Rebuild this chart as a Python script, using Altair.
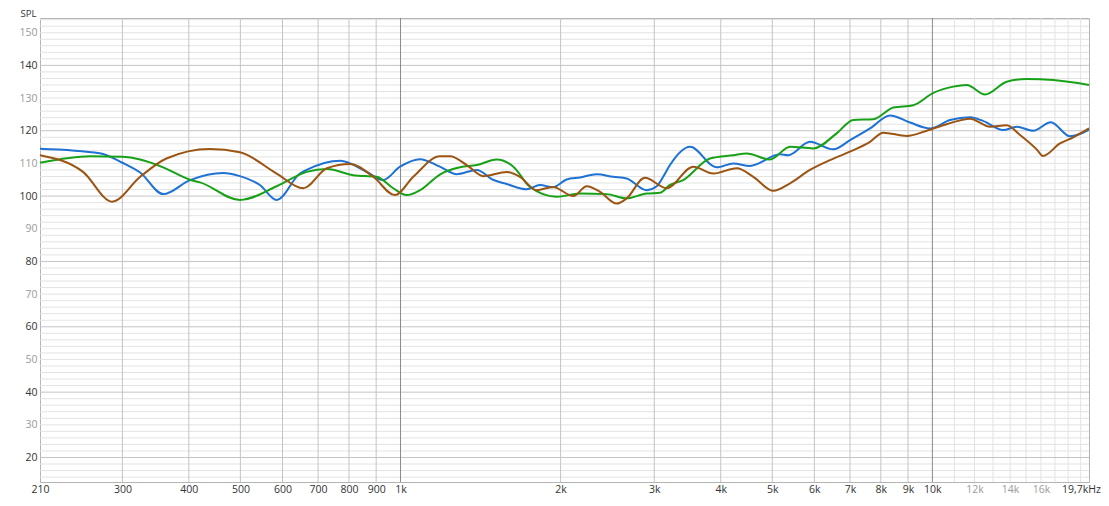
import altair as alt
import pandas as pd

# ---- data ----
blue_freq = [210, 272, 300, 324, 358, 402, 464, 499, 544, 585, 647, 666, 770, 864, 927, 998, 1088, 1186, 1275, 1391,
             1492, 1584, 1727, 1829, 1935, 2053, 2175, 2338, 2509, 2662, 2903, 3032, 3120, 3211, 3502, 3931, 4224, 4540,
             5170, 5359, 5886, 6512, 7000, 7634, 8325, 9078, 9899, 10794, 11770, 12452, 13577, 14406, 15477, 16700,
             18144, 19700]
blue_spl = [114.5, 113.1, 110.2, 107.2, 100.6, 104.9, 107.1, 106.1, 103.4, 98.8, 106.9, 108.0, 110.8, 107.4, 104.9,
            109.0, 111.3, 109.0, 106.7, 108.0, 105.0, 103.7, 102.1, 103.4, 102.7, 105.1, 105.7, 106.7, 105.9, 105.4,
            101.8, 103.0, 106.0, 109.5, 115.1, 108.8, 110.0, 109.2, 112.8, 112.5, 116.6, 114.3, 117.1, 120.7, 124.7,
            122.5, 120.7, 123.3, 124.1, 123.0, 120.2, 121.2, 120.0, 122.6, 118.3, 120.3]

green_freq = [210, 261, 300, 324, 358, 402, 420, 499, 585, 666, 727, 815, 902, 969, 1027, 1088, 1186, 1294, 1391, 1516,
              1630, 1752, 1966, 2175, 2441, 2662, 2903, 3075, 3211, 3401, 3818, 4224, 4476, 4951, 5399, 5971, 6608,
              7101, 7745, 8444, 9209, 10041, 10949, 11603, 12561, 13796, 15043, 16878, 19700]
green_spl = [110.2, 112.2, 112.0, 111.2, 108.8, 105.0, 104.2, 98.8, 103.0, 107.4, 108.3, 106.4, 105.9, 102.4, 100.3,
             101.8, 106.6, 108.8, 109.5, 111.2, 109.0, 102.8, 99.8, 100.8, 100.6, 99.3, 100.8, 101.0, 103.4, 104.9,
             111.5, 112.5, 113.0, 111.2, 115.1, 114.6, 119.2, 123.3, 123.5, 127.1, 127.8, 131.6, 133.5, 134.0, 131.1,
             135.0, 135.8, 135.5, 134.0]

brown_freq = [210, 253, 287, 324, 363, 438, 499, 585, 656, 727, 804, 889, 976, 1057, 1186, 1239, 1332, 1431, 1584, 1677,
              1803, 1935, 2113, 2239, 2372, 2549, 2662, 2880, 3166, 3552, 3873, 4286, 4606, 5022, 5399, 5886, 6418,
              7000, 7634, 8087, 8949, 9759, 10641, 11770, 12835, 13796, 14614, 15706, 16141, 17375, 18406, 19700]
brown_spl = [112.5, 107.4, 98.3, 105.9, 111.5, 114.4, 113.4, 106.9, 102.4, 108.5, 109.8, 105.9, 100.3, 105.9, 112.2,
             112.2, 109.5, 106.1, 107.4, 105.9, 101.8, 102.8, 100.0, 103.0, 101.3, 97.7, 99.3, 105.6, 102.4, 109.0,
             106.9, 108.5, 105.9, 101.6, 103.9, 108.0, 111.0, 113.6, 116.6, 119.4, 118.4, 120.0, 122.0, 123.7, 121.2,
             121.7, 118.7, 114.3, 112.3, 116.1, 118.0, 120.7]

x_label_values = [210, 300, 400, 500, 600, 700, 800, 900, 1000, 2000, 3000, 4000, 5000, 6000, 7000, 8000, 9000,
                  10000, 12000, 14000, 16000, 19700]
x_grid_mid = [300, 400, 500, 600, 700, 800, 900, 2000, 3000, 4000, 5000, 6000, 7000, 8000, 9000]
x_grid_dark = [1000, 10000]
x_grid_light = [11000, 12000, 13000, 14000, 15000, 16000, 17000, 18000, 19000]
y_label_values = list(range(20, 151, 10))
y_grid_mid = list(range(20, 141, 20))
y_grid_light = [v for v in range(14, 155, 2) if v not in y_grid_mid]

X_DOMAIN = [210, 19700]
Y_DOMAIN = [12.5, 154.5]
FONT = "Open Sans"

xs = alt.Scale(type="log", domain=X_DOMAIN, nice=False)
ys = alt.Scale(domain=Y_DOMAIN, nice=False, zero=False)

x_axis = alt.Axis(
    values=x_label_values, grid=False, ticks=False, domain=False, labelFlush=False,
    labelExpr="datum.value == 19700 ? '19,7kHz' : (datum.value >= 1000 ? (datum.value / 1000) + 'k' : datum.value + '')",
    labelColor=alt.condition("datum.value > 10000 && datum.value < 19700", alt.value("#9a9a9a"), alt.value("#333333")),
    labelOffset=alt.condition("datum.value == 19700", alt.value(-8), alt.value(0)),
    labelFont=FONT, labelFontSize=10.5, labelPadding=2, title=None)

y_axis = alt.Axis(
    values=y_label_values, grid=False, ticks=False, domain=False,
    labelColor=alt.condition("datum.value % 20 == 0", alt.value("#333333"), alt.value("#9a9a9a")),
    labelFont=FONT, labelFontSize=10.5, labelPadding=3,
    title="SPL", titleAngle=0, titleAlign="left", titleBaseline="top", titleX=-20, titleY=-9.5,
    titleFont=FONT, titleFontSize=9.5, titleFontWeight="normal", titleColor="#333333")

X = lambda: alt.X("freq:Q", scale=xs, axis=x_axis, title=None)
Y = lambda: alt.Y("spl:Q", scale=ys, axis=y_axis, title="SPL")


def vgrid(vals, color):
    return alt.Chart(pd.DataFrame({"freq": vals})).mark_rule(color=color, strokeWidth=1).encode(x=X())


def hgrid(vals, color):
    return alt.Chart(pd.DataFrame({"spl": vals})).mark_rule(color=color, strokeWidth=1).encode(y=Y())


def curve(f, s, color):
    df = pd.DataFrame({"freq": f, "spl": s})
    return alt.Chart(df).mark_line(color=color, strokeWidth=2, interpolate="monotone").encode(x=X(), y=Y())


chart = alt.layer(
    hgrid(y_grid_light, "#e3e3e3"),
    vgrid(x_grid_light, "#e3e3e3"),
    hgrid(y_grid_mid, "#c4c4c4"),
    vgrid(x_grid_mid, "#c4c4c4"),
    vgrid(x_grid_dark, "#8a8a8a"),
    curve(blue_freq, blue_spl, "#1d72d4"),
    curve(green_freq, green_spl, "#17a117"),
    curve(brown_freq, brown_spl, "#9c5413"),
).properties(
    width=1049, height=464,
    autosize=alt.AutoSizeParams(type="none"),
    padding={"left": 32, "top": 10, "right": 12, "bottom": 12},
).configure_view(stroke="#b4b4b4", strokeWidth=1)

chart.save("out.html", embed_options={"renderer": "svg", "actions": False})
